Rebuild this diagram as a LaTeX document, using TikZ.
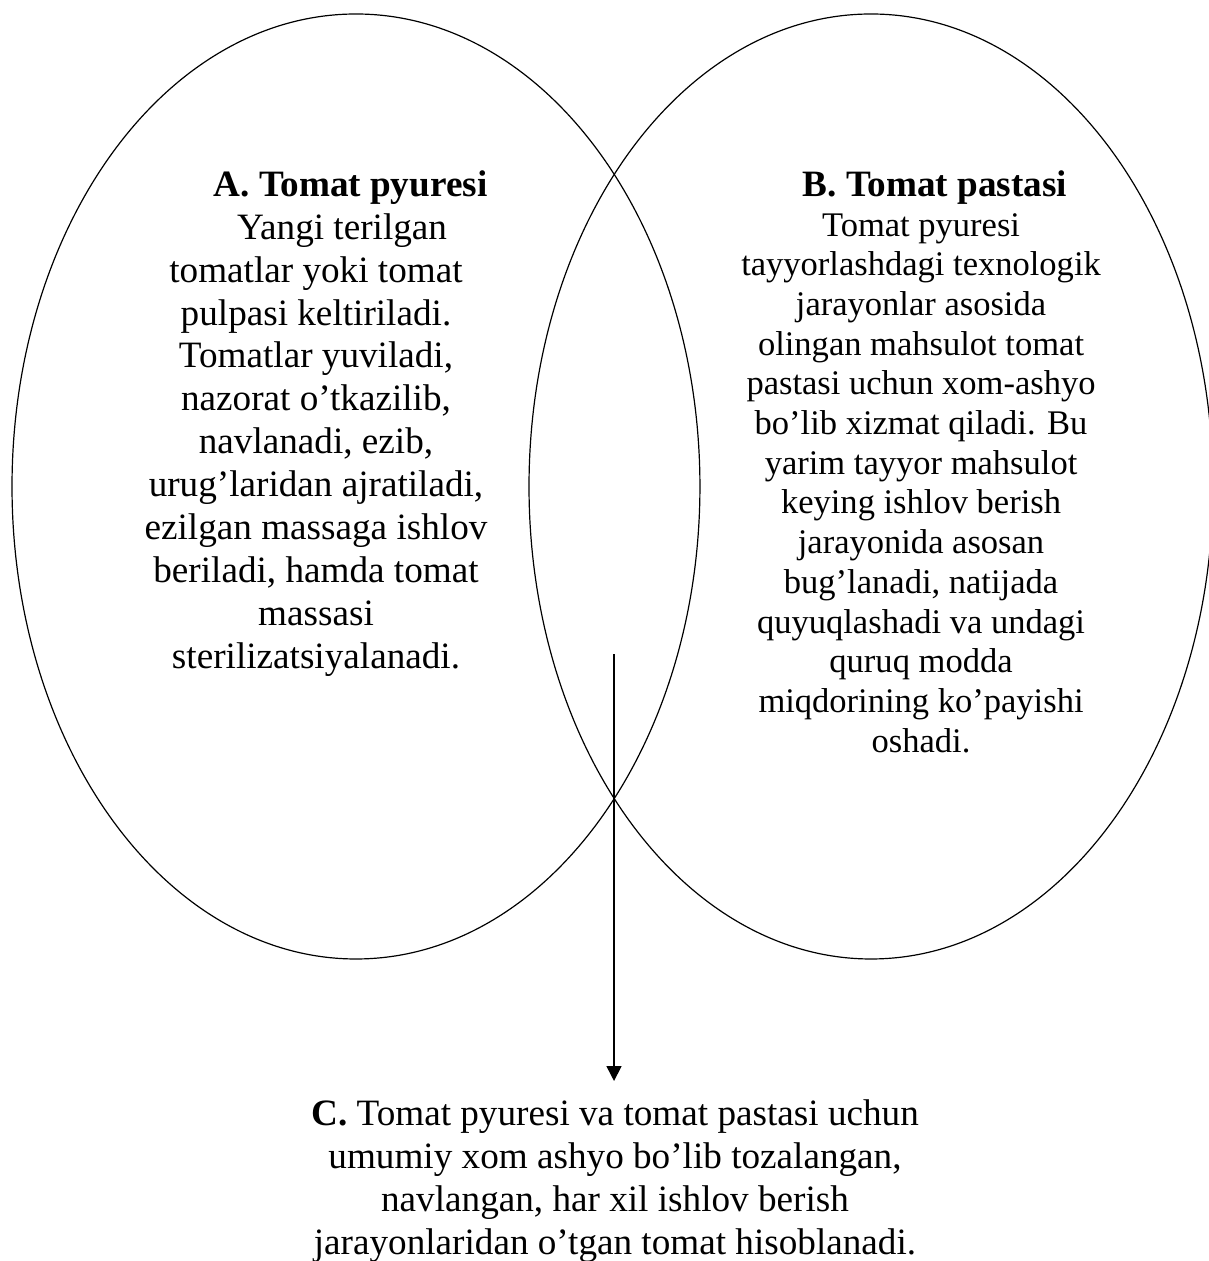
\documentclass[tikz,border=0pt]{standalone}
\usepackage{fontspec}
\setmainfont{Liberation Serif}
\usetikzlibrary{shapes.geometric,arrows.meta}

\begin{document}
\begin{tikzpicture}
  \useasboundingbox (0,0) rectangle (16,-16.688);
  \tikzset{
    blob/.style={ellipse,draw,line width=0.45pt,inner sep=0pt},
    bigtext/.style={anchor=north,align=center,inner sep=0pt,font=\fontsize{14pt}{16.15pt}\selectfont},
    smalltext/.style={anchor=north,align=center,inner sep=0pt,font=\fontsize{13pt}{14.95pt}\selectfont},
    drop/.style={line width=0.6pt,-{Triangle[width=5.6pt,length=5.6pt]}}
  }
  \def\heading#1{{\fontsize{14pt}{16.15pt}\selectfont\bfseries #1}}

  %sets
  \node[blob,minimum width=9.104cm,minimum height=12.506cm] (pyure) at (4.711,-6.438){};
  \node[blob,minimum width=9.052cm,minimum height=12.506cm] (pasta) at (11.527,-6.438){};

  %A
  \node[bigtext] (atext) at (4.182,-2.250){\hspace*{26pt}\heading{A. Tomat pyuresi}\\
    \hspace*{19.6pt}Yangi terilgan\\ tomatlar yoki tomat\\ pulpasi keltiriladi.\\
    Tomatlar yuviladi,\\ nazorat o’tkazilib,\\ navlanadi, ezib,\\
    urug’laridan ajratiladi,\\ ezilgan massaga ishlov\\ beriladi, hamda tomat\\
    massasi\\ sterilizatsiyalanadi.};

  %B
  \node[smalltext] (btext) at (12.189,-2.250){\hspace*{10.5pt}\heading{B. Tomat pastasi}\\
    Tomat pyuresi\\ tayyorlashdagi texnologik\\ jarayonlar asosida\\
    olingan mahsulot tomat\\ pastasi uchun xom-ashyo\\ bo’lib xizmat qiladi. Bu\\
    yarim tayyor mahsulot\\ keying ishlov berish\\ jarayonida asosan\\
    bug’lanadi, natijada\\ quyuqlashadi va undagi\\ quruq modda\\
    miqdorining ko’payishi\\ oshadi.};

  %C
  \node[bigtext] (ctext) at (8.139,-14.552){\textbf{C.} Tomat pyuresi va tomat pastasi uchun\\
    umumiy xom ashyo bo’lib tozalangan,\\ navlangan, har xil ishlov berish\\
    jarayonlaridan o’tgan tomat hisoblanadi.};

  \coordinate (start) at (8.126,-8.655);
  \draw[drop,shorten >=0.246cm] (start) -- (start |- ctext.north);

\end{tikzpicture}
\end{document}
